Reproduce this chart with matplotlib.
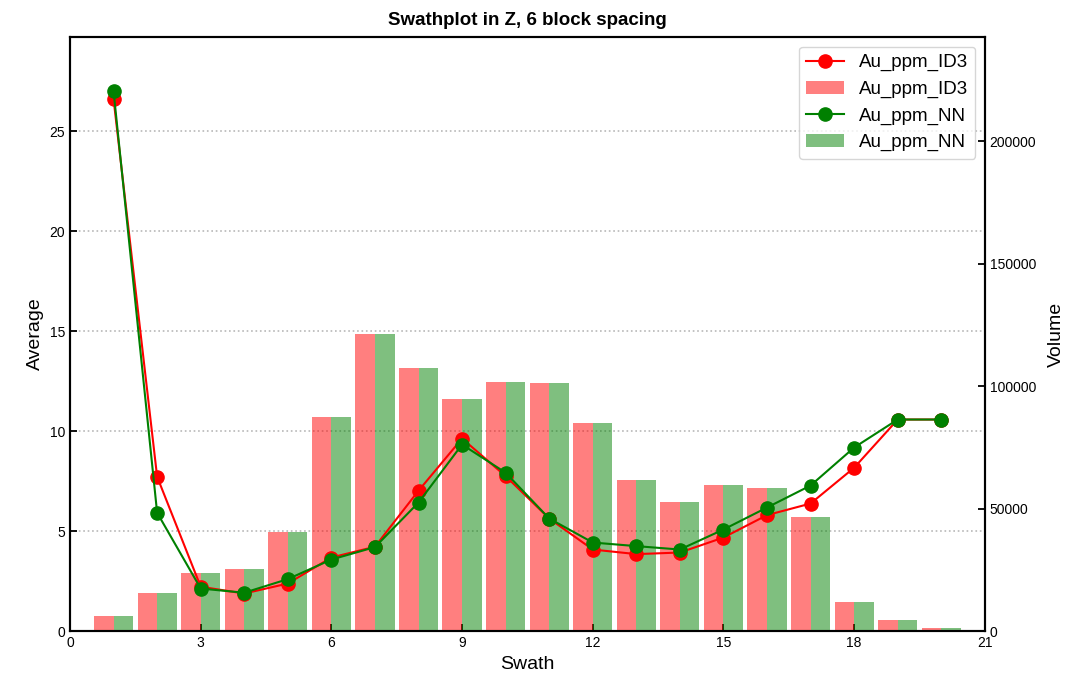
import matplotlib.pyplot as plt
import numpy as np

plt.rcParams['font.family'] = ['Liberation Sans', 'DejaVu Sans']

swath = np.arange(1, 21)

# average grade per swath
avg_id3 = [26.6, 7.72, 2.22, 1.88, 2.38, 3.68, 4.22, 7.02, 9.63, 7.75,
           5.63, 4.08, 3.85, 3.93, 4.68, 5.80, 6.38, 8.17, 10.58, 10.58]
avg_nn = [27.0, 5.92, 2.13, 1.92, 2.60, 3.58, 4.20, 6.43, 9.33, 7.92,
          5.63, 4.43, 4.25, 4.08, 5.08, 6.18, 7.28, 9.18, 10.58, 10.58]

# block volume per swath
vol_id3 = [6120, 15510, 23670, 25310, 40410, 87350, 121220, 107350, 94690, 101630,
           101220, 84900, 61630, 52650, 59590, 58370, 46530, 11840, 4490, 1220]
vol_nn = list(vol_id3)

fig, ax = plt.subplots(figsize=(10.67, 6.75), dpi=100)
fig.subplots_adjust(left=0.0656, right=0.923, top=0.945, bottom=0.065)

# left axis: grid only, so it stays behind the bars
ax.set_xlim(0, 21)
ax.set_ylim(0, max(avg_nn) * 1.1)
ax.yaxis.grid(True, linestyle=':', color='#b8b8b8', linewidth=1.2)

axv = ax.twinx()
b1 = axv.bar(swath, vol_id3, width=-0.45, align='edge', color='red', alpha=0.5, label='Au_ppm_ID3')
b2 = axv.bar(swath, vol_nn, width=0.45, align='edge', color='green', alpha=0.5, label='Au_ppm_NN')
axv.set_ylim(0, max(vol_id3) * 2)
axv.set_ylabel('Volume', fontsize=14, labelpad=8)

# lines on a third axis sharing the average scale, drawn over the bars
axl = ax.twinx()
axl.set_ylim(ax.get_ylim())
axl.axis('off')
l1, = axl.plot(swath, avg_id3, '-o', color='red', markersize=9.5, linewidth=1.5, label='Au_ppm_ID3')
l2, = axl.plot(swath, avg_nn, '-o', color='green', markersize=9.5, linewidth=1.5, label='Au_ppm_NN')

ax.set_xticks(np.arange(0, 22, 3))
ax.set_xlabel('Swath', fontsize=14)
ax.set_ylabel('Average', fontsize=14)
ax.set_title('Swathplot in Z, 6 block spacing', fontsize=13.5, fontweight='bold', pad=9)

for a in (ax, axv):
    a.tick_params(direction='in', labelsize=10, width=1.3, length=5)
    for s in a.spines.values():
        s.set_linewidth(1.5)

axl.legend([l1, b1, l2, b2], ['Au_ppm_ID3', 'Au_ppm_ID3', 'Au_ppm_NN', 'Au_ppm_NN'],
           loc='upper right', fontsize=13.5)

plt.savefig('out.png', dpi=100)
